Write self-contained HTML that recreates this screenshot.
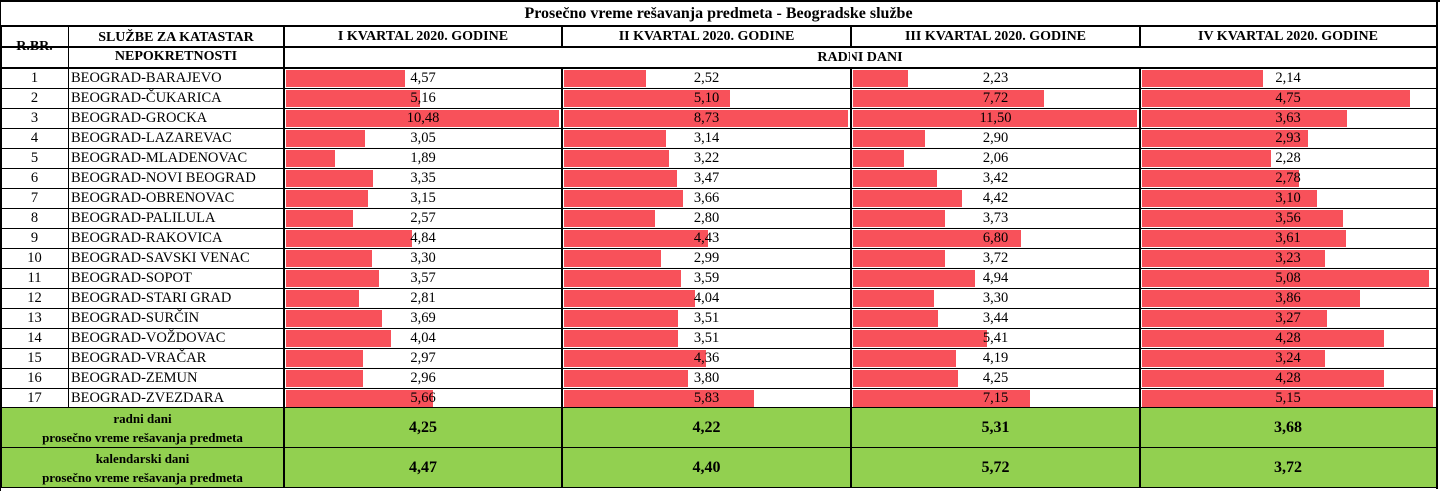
<!DOCTYPE html>
<html><head><meta charset="utf-8"><style>
body{margin:0;width:1440px;height:491px;background:#fff;position:relative;overflow:hidden;font-family:"Liberation Serif",serif;color:#000}
.c{position:absolute;box-sizing:border-box;display:flex;align-items:center;justify-content:center;text-align:center;white-space:nowrap}
.ln{position:absolute;background:#000}
.bar{position:absolute;background:#f8515a}
.hd{font-weight:bold;font-size:14px}
.dt{font-size:14.5px}
</style></head><body>
<div id="root"></div>
<script>
const services=["BEOGRAD-BARAJEVO","BEOGRAD-ČUKARICA","BEOGRAD-GROCKA","BEOGRAD-LAZAREVAC","BEOGRAD-MLADENOVAC","BEOGRAD-NOVI BEOGRAD","BEOGRAD-OBRENOVAC","BEOGRAD-PALILULA","BEOGRAD-RAKOVICA","BEOGRAD-SAVSKI VENAC","BEOGRAD-SOPOT","BEOGRAD-STARI GRAD","BEOGRAD-SURČIN","BEOGRAD-VOŽDOVAC","BEOGRAD-VRAČAR","BEOGRAD-ZEMUN","BEOGRAD-ZVEZDARA"];
const quarters=["I KVARTAL 2020. GODINE","II KVARTAL 2020. GODINE","III KVARTAL 2020. GODINE","IV KVARTAL 2020. GODINE"];
const q1=[4.57,5.16,10.48,3.05,1.89,3.35,3.15,2.57,4.84,3.30,3.57,2.81,3.69,4.04,2.97,2.96,5.66];
const q2=[2.52,5.10,8.73,3.14,3.22,3.47,3.66,2.80,4.43,2.99,3.59,4.04,3.51,3.51,4.36,3.80,5.83];
const q3=[2.23,7.72,11.50,2.90,2.06,3.42,4.42,3.73,6.80,3.72,4.94,3.30,3.44,5.41,4.19,4.25,7.15];
const q4=[2.14,4.75,3.63,2.93,2.28,2.78,3.10,3.56,3.61,3.23,5.08,3.86,3.27,4.28,3.24,4.28,5.15];
const avgWork=[4.25,4.22,5.31,3.68];
const avgCal=[4.47,4.40,5.72,3.72];
const series=[q1,q2,q3,q4];

const root=document.getElementById('root');
const X=[1,68,284,562,851,1140,1436];
const fmt=v=>v.toFixed(2).replace('.',',');
function cell(x1,y1,x2,y2,txt,cls,name,bg){
  const d=document.createElement('div');
  d.className='c '+(cls||'');
  d.style.left=x1+'px';d.style.top=y1+'px';d.style.width=(x2-x1)+'px';d.style.height=(y2-y1)+'px';
  if(bg)d.style.background=bg;
  d.innerHTML=txt;
  
  
  root.appendChild(d);return d;
}
function line(x,y,w,h){
  const d=document.createElement('div');d.className='ln';
  d.style.left=x+'px';d.style.top=y+'px';d.style.width=w+'px';d.style.height=h+'px';
  
  
  root.appendChild(d);
}
// green summary backgrounds
cell(X[0],408,X[6],488,'','', 'summary-background','#92d050');
// title
cell(X[0],1,X[6],26,'Prosečno vreme rešavanja predmeta - Beogradske službe','hd','chart-title').style.fontSize='16px';
cell(X[0],26,X[1],68,'R.BR.','hd','rbr-header');
cell(X[1],26,X[2],68,'SLUŽBE ZA KATASTAR<br>NEPOKRETNOSTI','hd','service-header').style.lineHeight='19px';
quarters.forEach((q,i)=>cell(X[2+i],26,X[3+i],47,q,'hd','quarter-header'));
cell(X[2],47,X[6],68,'RADNI DANI','hd','unit-header');
const rowY=i=>68+20*i;
services.forEach((s,i)=>{
  const y=rowY(i);
  cell(X[0],y,X[1],y+20,String(i+1),'dt','row-number');
  const n=cell(X[1],y,X[2],y+20,s,'dt','service-name');n.style.justifyContent='flex-start';n.style.paddingLeft='3px';
});
series.forEach((arr,q)=>{
  const max=Math.max(...arr);
  const x0=X[2+q]+2, span=X[3+q]-X[2+q]-5;
  arr.forEach((v,i)=>{
    const b=document.createElement('div');b.className='bar';
    b.style.left=x0+'px';b.style.top=(rowY(i)+2)+'px';b.style.height='17px';
    b.style.width=(v/max*span)+'px';
    
    
    root.appendChild(b);
  });
  arr.forEach((v,i)=>cell(X[2+q],rowY(i),X[3+q],rowY(i)+20,fmt(v),'dt','bar-value'));
  cell(X[2+q],408,X[3+q],448,fmt(avgWork[q]),'hd','avg-work-days').style.fontSize='16px';
  cell(X[2+q],448,X[3+q],488,fmt(avgCal[q]),'hd','avg-calendar-days').style.fontSize='16px';
});
const l1=cell(X[0],408,X[2],448,'radni dani<br>prosečno vreme rešavanja predmeta','hd','avg-work-label');l1.style.lineHeight='19px';l1.style.fontSize='13px';
const l2=cell(X[0],448,X[2],488,'kalendarski dani<br>prosečno vreme rešavanja predmeta','hd','avg-calendar-label');l2.style.lineHeight='19px';l2.style.fontSize='13px';
// grid lines
line(0,0,1440,2);line(0,0,1,491);
line(X[0],25,X[6]-X[0],2);
line(X[0],46,X[6]-X[0],2);line(X[2],46,X[6]-X[2],0);
line(X[0],67,X[6]-X[0],2);
for(let i=1;i<17;i++)line(X[0],rowY(i),X[6]-X[0],1);
line(X[0],407,X[6]-X[0],1);line(X[0],447,X[6]-X[0],1);line(X[0],487,X[6]-X[0],1);
line(X[6],0,2,489);line(X[0],26,1,462);
[1].forEach(k=>line(X[k],26,1,382));
[2,3,4,5].forEach(k=>line(X[k]-1,26,2,462));
// RADNI DANI row: no internal verticals between quarter columns
[3,4,5].forEach(k=>{const w=document.createElement('div');w.className='c';w.style.left=(X[k]-1)+'px';w.style.top='48px';w.style.width='2px';w.style.height='19px';w.style.background='#fff';root.appendChild(w);});
</script>
</body></html>
